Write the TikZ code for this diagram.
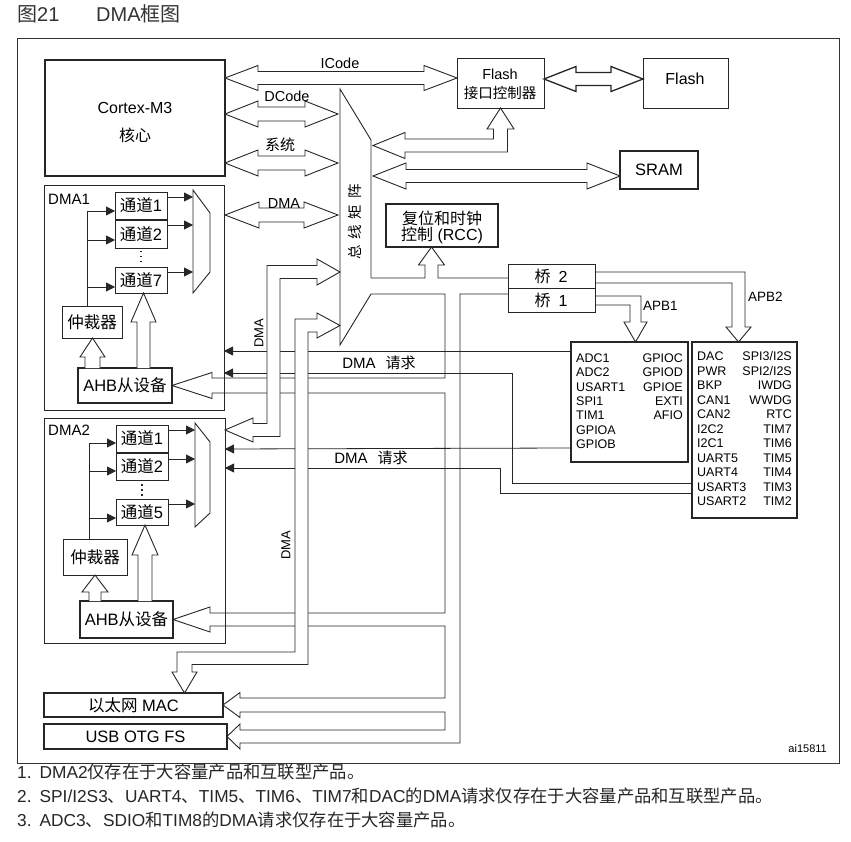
\documentclass[tikz,border=0pt]{standalone}
\usepackage{fontspec}
\setmainfont{Liberation Sans}
\newfontfamily\cjk{Noto Sans CJK SC}
\usetikzlibrary{arrows.meta}
\newcommand\fsz[1]{\fontsize{#1}{#1}\selectfont}
\newcommand\bx[7]{\node[#6, minimum width={#4-#2}, minimum height={#5-#3}] (#1) at ({(#2+#4)/2},{(#3+#5)/2}) {#7};}
\newcommand\dblH[6]{\draw[fat] (#1,#3) -- ({#1+#6},{#3-#5}) -- ({#1+#6},{#3-#4}) -- ({#2-#6},{#3-#4}) -- ({#2-#6},{#3-#5}) -- (#2,#3) -- ({#2-#6},{#3+#5}) -- ({#2-#6},{#3+#4}) -- ({#1+#6},{#3+#4}) -- ({#1+#6},{#3+#5}) -- cycle;}
\newcommand\upA[6]{\draw[fat] (#1,#6) -- (#1,#4) -- ({(#1+#2)/2-#3},#4) -- ({(#1+#2)/2},#5) -- ({(#1+#2)/2+#3},#4) -- (#2,#4) -- (#2,#6);}
\begin{document}
\begin{tikzpicture}[x=1pt,y=-1pt,
  tk/.style={draw=black!85, line width=0.9pt},
  box/.style={draw=black!85, line width=0.9pt, fill=white, inner sep=0pt, outer sep=0pt, font=\fsz{16.5}},
  tbox/.style={box, line width=1.8pt},
  mbox/.style={box, line width=1.3pt},
  fat/.style={draw=black!85, line width=0.9pt, fill=white},
  req/.style={draw=black!85, line width=0.8pt, -{Triangle[length=9pt,width=9pt]}},
  sreq/.style={draw=black!85, line width=0.8pt, -{Triangle[length=9pt,width=9pt]}},
  txt/.style={inner sep=0pt, font=\fsz{16}},
  ptxt/.style={inner sep=0pt, font=\fsz{12.5}},
]
\useasboundingbox (0,0) rectangle (851,842);
\fill[white] (0,0) rectangle (851,842);

% title
\node[anchor=mid west, inner sep=0pt, text=black!80, font=\fsz{20}] (t1) at (17,19) {{\cjk 图}21};
\node[anchor=mid west, inner sep=0pt, text=black!80, font=\fsz{20}] (t2) at (96,19) {DMA{\cjk 框图}};

% frame
\draw[line width=1pt, black!80] (17,39) rectangle (839,763);

% boxes
\bx{cortex}{45}{60}{225}{176}{tbox}{}
\bx{flashctl}{457}{58}{544}{108}{box}{}
\bx{flash}{643}{58}{728}{108}{box}{}
\bx{sram}{620}{151}{698}{189}{tbox}{}
\bx{rcc}{386}{204}{498}{247}{tbox}{}
\bx{br2}{508}{264}{595}{288}{box}{}
\bx{br1}{508}{288}{595}{312}{box}{}
\bx{apb1}{571}{342}{688}{462}{tbox}{}
\bx{apb2}{692}{342}{797}{518}{tbox}{}
\bx{dma1}{44}{185}{224}{410}{box}{}
\bx{dma2}{44}{418}{225}{643}{box}{}
\bx{mac}{44}{693}{223}{717}{tbox}{{\cjk 以太网} MAC}
\bx{usb}{44}{724}{227}{749}{tbox}{USB OTG FS}
\bx{c11}{115}{192}{167}{219}{box}{{\cjk 通道}1}
\bx{c12}{115}{220}{167}{248}{box}{{\cjk 通道}2}
\bx{c17}{115}{267}{167}{293}{box}{{\cjk 通道}7}
\bx{arb1}{62}{306}{122}{338}{box}{{\cjk 仲裁器}}
\bx{ahb1}{78}{368}{172}{403}{mbox}{AHB{\cjk 从设备}}
\bx{c21}{116}{425}{168}{452}{box}{{\cjk 通道}1}
\bx{c22}{116}{453}{168}{480}{box}{{\cjk 通道}2}
\bx{c25}{116}{499}{168}{525}{box}{{\cjk 通道}5}
\bx{arb2}{63}{539}{127}{575}{box}{{\cjk 仲裁器}}
\bx{ahb2}{80}{601}{173}{638}{tbox}{AHB{\cjk 从设备}}

% texts in boxes
\node[txt] (cortexA) at (135,108) {Cortex-M3};
\node[txt] (cortexB) at (135,135) {{\cjk 核心}};
\node[txt, font=\fsz{14.5}] (fcA) at (500,74) {Flash};
\node[txt, font=\fsz{14.5}] (fcB) at (500,93) {{\cjk 接口控制器}};
\node[txt, font=\fsz{16}] (flashT) at (685,79) {Flash};
\node[txt, font=\fsz{16.5}] (sramT) at (659,170) {SRAM};
\node[txt] (rccA) at (442,218) {{\cjk 复位和时钟}};
\node[txt] (rccB) at (442,235) {{\cjk 控制} (RCC)};
\node[txt] (br2T) at (551,276) {{\cjk 桥}\hspace{8pt}2};
\node[txt] (br1T) at (551,300) {{\cjk 桥}\hspace{8pt}1};
\node[txt, font=\fsz{15}, anchor=mid west] (dma1L) at (48,202) {DMA1};
\node[txt, font=\fsz{15}, anchor=mid west] (dma2L) at (48,433) {DMA2};

% APB1 list
\foreach \t [count=\i] in {ADC1,ADC2,USART1,SPI1,TIM1,GPIOA,GPIOB}
  \node[ptxt, anchor=mid west] (pa\i) at (576,{360+14.3*(\i-1)}) {\t};
\foreach \t [count=\i] in {GPIOC,GPIOD,GPIOE,EXTI,AFIO}
  \node[ptxt, anchor=mid east] (pb\i) at (683,{360+14.3*(\i-1)}) {\t};
% APB2 list
\foreach \t [count=\i] in {DAC,PWR,BKP,CAN1,CAN2,I2C2,I2C1,UART5,UART4,USART3,USART2}
  \node[ptxt, anchor=mid west] (pc\i) at (697,{358+14.5*(\i-1)}) {\t};
\foreach \t [count=\i] in {SPI3/I2S,SPI2/I2S,IWDG,WWDG,RTC,TIM7,TIM6,TIM5,TIM4,TIM3,TIM2}
  \node[ptxt, anchor=mid east] (pd\i) at (792,{358+14.5*(\i-1)}) {\t};

% bus matrix
\draw[tk, fill=white] (371,278) -- (371,140) -- (340,89) -- (340,345) -- (371,294);
\node[rotate=90, inner sep=0pt, font=\fsz{14.5}] (bmT) at (355,222) {{\cjk 总\hspace{6pt}线\hspace{6pt}矩\hspace{6pt}阵}};

% trunk from matrix (thin outlines)
\draw[tk] (371,278) -- (425,278) -- (425,265) -- (418.5,265) -- (rcc.south -| 431.5,0) -- (444.5,265) -- (438,265) -- (438,278) -- (br2.west |- 0,278);
\draw[tk] (371,294) -- (445,294) -- (445,378) -- (212,378) -- (212,372.5) -- (ahb1.east |- 0,385.5) -- (212,398.5) -- (212,393) -- (445,393)
  -- (445,613) -- (210,613) -- (210,607) -- (ahb2.east |- 0,619.5) -- (210,632) -- (210,626) -- (445,626)
  -- (445,698) -- (240,698) -- (240,692.5) -- (mac.east |- 0,705) -- (240,717.5) -- (240,712) -- (445,712)
  -- (445,730) -- (240,730) -- (240,724) -- (usb.east |- 0,736.5) -- (240,749) -- (240,743) -- (460,743) -- (460,294) -- (br1.west |- 0,294);

% bridges to APB
\draw[tk] (br2.east |- 0,272) -- (745,272) -- (745,327) -- (751,327) -- (apb2.north -| 738.5,0) -- (726,327) -- (732,327) -- (732,283) -- (br2.east |- 0,283);
\draw[tk] (br1.east |- 0,296) -- (641,296) -- (641,322) -- (647,322) -- (apb1.north -| 635.5,0) -- (624,322) -- (630,322) -- (630,305) -- (br1.east |- 0,305);
\node[inner sep=0pt, anchor=mid west, font=\fsz{13.5}] (apb1L) at (643,308) {APB1};
\node[inner sep=0pt, anchor=mid west, font=\fsz{13.5}] (apb2L) at (748,299) {APB2};

% DMA requests
\draw[req] (apb1.west |- 0,351) -- (dma1.east |- 0,351);
\draw[req] (apb2.west |- 0,483) -- (512,483) -- (512,373) -- (dma1.east |- 0,373);
\draw[req] (apb1.west |- 0,448) -- (dma2.east |- 0,449);
\draw[req] (apb2.west |- 0,493) -- (500,493) -- (500,468) -- (dma2.east |- 0,468);
\node[inner sep=0pt, font=\fsz{15}] (rq1) at (379,363) {DMA\hspace{10pt}{\cjk 请求}};
\node[inner sep=0pt, font=\fsz{15}] (rq2) at (371,458) {DMA\hspace{10pt}{\cjk 请求}};

% horizontal fat arrows
\dblH{225}{457}{78}{6.5}{12.5}{33}
\dblH{225}{338}{114}{7}{13}{33}
\dblH{225}{338}{163}{7}{13}{33}
\dblH{225}{338}{215}{7}{13}{34}
\begin{scope}[fat/.append style={line width=1.3pt}]
\dblH{544}{643}{79}{6.5}{12.5}{32}
\end{scope}
\dblH{373}{620}{176}{6.5}{13}{33}
\draw[fat] (373,145.5) -- (405,132.5) -- (405,139) -- (493.5,139) -- (493.5,129) -- (487,129) -- (flashctl.south) -- (514,129) -- (507.5,129) -- (507.5,152) -- (405,152) -- (405,158.5) -- cycle;
\node[txt, font=\fsz{14.5}] (icodeL) at (340,63) {ICode};
\node[txt, font=\fsz{14.5}] (dcodeL) at (287,96) {DCode};
\node[txt, font=\fsz{15}] (sysL) at (280,145) {{\cjk 系统}};
\node[txt, font=\fsz{14.5}] (dmaL) at (284,204) {DMA};

% DMA2 master <-> matrix
\draw[fat] (340,272) -- (317,259) -- (317,265.5) -- (267,265.5) -- (267,423.5) -- (253,423.5) -- (253,418) -- (dma2.east |- 0,430) -- (253,442) -- (253,436.5) -- (280,436.5) -- (280,278.5) -- (317,278.5) -- (317,285) -- cycle;
% Ethernet MAC master <-> matrix
\draw[fat] (340,325.5) -- (317,313) -- (317,319) -- (295,319) -- (295,652) -- (177,652) -- (177,672) -- (172,672) -- (mac.north -| 184.5,0) -- (197,672) -- (192,672) -- (192,664.5) -- (308,664.5) -- (308,332) -- (317,332) -- (317,338) -- cycle;
\node[rotate=90, inner sep=0pt, font=\fsz{13}] (dmaV1) at (259,333) {DMA};
\node[rotate=90, inner sep=0pt, font=\fsz{13}] (dmaV2) at (286,545) {DMA};

% DMA1 internals
\draw[tk, fill=white] (193,190) -- (210,213) -- (210,272) -- (193,293) -- cycle;
\draw[sreq] (c11.east |- 0,197) -- (193,197);
\draw[sreq] (c12.east |- 0,225) -- (193,225);
\draw[sreq] (c17.east |- 0,272) -- (193,272);
\draw[sreq] (arb1.north -| 87,0) -- (87,211) -- (c11.west |- 0,211);
\draw[sreq] (87,240) -- (c12.west |- 0,240);
\draw[sreq] (87,287) -- (c17.west |- 0,287);
\draw[black!85, line width=1.2pt, dash pattern=on 1.5pt off 3.5pt] (141,251) -- (141,266);
\upA{85}{100}{12.5}{357}{338}{368}
\upA{137}{150}{12.5}{322}{293}{368}

% DMA2 internals
\draw[tk, fill=white] (195,423) -- (210,442) -- (210,513) -- (195,527) -- cycle;
\draw[sreq] (c21.east |- 0,430) -- (195,430);
\draw[sreq] (c22.east |- 0,459) -- (195,459);
\draw[sreq] (c25.east |- 0,504) -- (195,504);
\draw[sreq] (arb2.north -| 89,0) -- (89,443) -- (c21.west |- 0,443);
\draw[sreq] (89,471) -- (c22.west |- 0,471);
\draw[sreq] (89,518) -- (c25.west |- 0,518);
\draw[black!85, line width=1.2pt, dash pattern=on 1.5pt off 3.5pt] (142,484) -- (142,498);
\upA{89}{101}{13}{592}{575}{601}
\upA{138}{152}{13}{555}{525}{601}

% id
\node[inner sep=0pt, anchor=mid east, font=\fsz{11}] (aiL) at (827,750) {ai15811};

% footnotes
\node[inner sep=0pt, anchor=mid west, font=\fsz{17.3}, text=black!85] (fn1) at (17,776) {1.\hspace{8pt}DMA2{\cjk 仅存在于大容量产品和互联型产品。}};
\node[inner sep=0pt, anchor=mid west, font=\fsz{17.3}, text=black!85] (fn2) at (17,800) {2.\hspace{8pt}SPI/I2S3{\cjk 、}UART4{\cjk 、}TIM5{\cjk 、}TIM6{\cjk 、}TIM7{\cjk 和}DAC{\cjk 的}DMA{\cjk 请求仅存在于大容量产品和互联型产品。}};
\node[inner sep=0pt, anchor=mid west, font=\fsz{17.3}, text=black!85] (fn3) at (17,824) {3.\hspace{8pt}ADC3{\cjk 、}SDIO{\cjk 和}TIM8{\cjk 的}DMA{\cjk 请求仅存在于大容量产品。}};
\end{tikzpicture}
\end{document}
